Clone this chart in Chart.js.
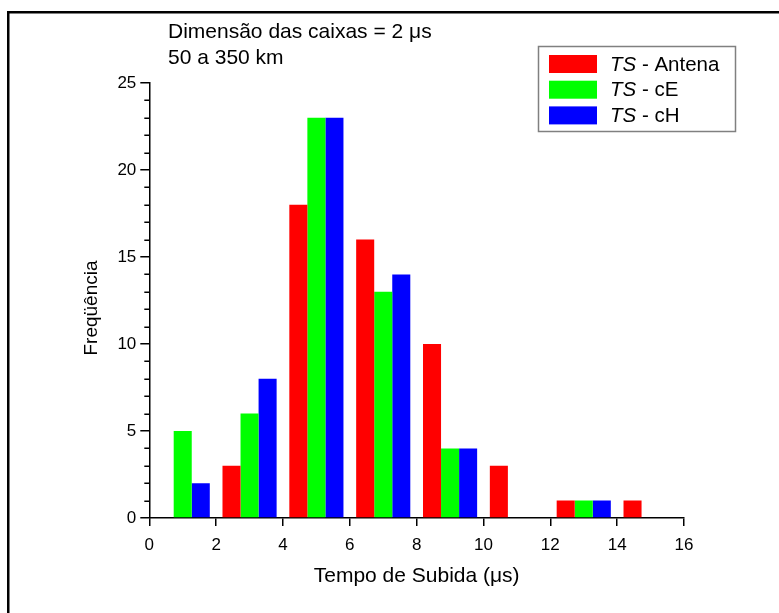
<!DOCTYPE html>
<html><head><meta charset="utf-8">
<script src="https://cdn.jsdelivr.net/npm/chart.js@4/dist/chart.umd.min.js"></script>
<style>html,body{margin:0;padding:0;background:#fff;} canvas{display:block;}</style>
</head><body>
<canvas id="c" width="779" height="613"></canvas>
<script>
// ---- data ----
const binCenters = [1, 3, 5, 7, 9, 11, 13, 15];
const seriesLabels = ['TS - Antena', 'TS - cE', 'TS - cH'];
const tsAntena = [0, 3, 18, 16, 10, 3, 1, 1];
const tsCE     = [5, 6, 23, 13, 4, 0, 1, 0];
const tsCH     = [2, 8, 23, 14, 4, 0, 1, 0];
const seriesColors = ['#ff0000', '#00ff00', '#0000ff'];
const xRange = [0, 16];
const xStep = 2;
const yRange = [0, 25];
const yStep = 5;
const noteLines = ['Dimensão das caixas = 2 μs', '50 a 350 km'];
const xTitle = 'Tempo de Subida (μs)';
const yTitle = 'Freqüência';

const FONT = "'Liberation Sans', Arial, Helvetica, sans-serif";

function pts(vals){ return binCenters.map((x,i)=>({x:x, y:vals[i]})); }

const decor = {
  id: 'decor',
  beforeDraw(chart){
    const ctx = chart.ctx;
    ctx.save(); ctx.fillStyle = '#fff'; ctx.fillRect(0,0,chart.width,chart.height); ctx.restore();
  },
  afterDraw(chart){
    const ctx = chart.ctx;
    const ys = chart.scales.y;
    ctx.save();
    // minor y ticks
    ctx.strokeStyle = '#000'; ctx.lineWidth = 1.5;
    for (let v = ys.min; v <= ys.max; v++) {
      if (v % yStep === 0) continue;
      const py = Math.round(ys.getPixelForValue(v)) + 0.25;
      ctx.beginPath(); ctx.moveTo(ys.right - 5, py); ctx.lineTo(ys.right, py); ctx.stroke();
    }
    // y axis title
    ctx.fillStyle = '#000';
    ctx.font = '19px ' + FONT;
    ctx.textAlign = 'center';
    ctx.textBaseline = 'middle';
    ctx.translate(92, 308);
    ctx.rotate(-Math.PI/2);
    ctx.fillText(yTitle, 0, 0);
    ctx.setTransform(1,0,0,1,0,0);
    // outer frame (top and left)
    ctx.fillStyle = '#000';
    ctx.fillRect(7, 11, chart.width - 7, 2.5);
    ctx.fillRect(7, 11, 2.5, chart.height - 11);
    // notes
    ctx.font = '21px ' + FONT;
    ctx.textBaseline = 'middle';
    ctx.textAlign = 'left';
    noteLines.forEach((t,i)=>{ ctx.fillText(t, 168, 32 + i*26); });
    // legend
    const bx = 538.5, by = 46.5, bw = 197, bh = 85;
    ctx.fillStyle = '#fff'; ctx.fillRect(bx, by, bw, bh);
    ctx.strokeStyle = '#808080'; ctx.lineWidth = 1.5; ctx.strokeRect(bx, by, bw, bh);
    chart.data.datasets.forEach((ds,i)=>{
      const cy = 64 + i*25.7;
      ctx.fillStyle = ds.backgroundColor;
      ctx.fillRect(549, cy - 9, 48, 18);
      const parts = ds.label.split(' - ');
      ctx.fillStyle = '#000';
      ctx.font = 'italic 20.5px ' + FONT;
      ctx.fillText(parts[0], 610, cy + 1);
      const w = ctx.measureText(parts[0]).width;
      ctx.font = '20.5px ' + FONT;
      ctx.fillText(' - ' + parts[1], 610 + w, cy + 1);
    });
    ctx.restore();
  }
};

new Chart(document.getElementById('c'), {
  type: 'bar',
  data: {
    datasets: [
      { label: seriesLabels[0], data: pts(tsAntena), backgroundColor: seriesColors[0], borderWidth: 0 },
      { label: seriesLabels[1], data: pts(tsCE), backgroundColor: seriesColors[1], borderWidth: 0 },
      { label: seriesLabels[2], data: pts(tsCH), backgroundColor: seriesColors[2], borderWidth: 0 }
    ]
  },
  options: {
    responsive: false,
    animation: false,
    devicePixelRatio: 1,
    categoryPercentage: 0.81,
    barPercentage: 1.0,
    layout: { padding: { left: 77, right: 95, top: 83, bottom: 20 } },
    plugins: { legend: { display: false }, tooltip: { enabled: false }, title: { display: false } },
    scales: {
      x: {
        type: 'linear', min: xRange[0], max: xRange[1], offset: false,
        grid: { offset: false, drawOnChartArea: false, drawTicks: true, tickLength: 8, color: '#000', lineWidth: 1.5 },
        border: { display: true, color: '#000', width: 1.5 },
        ticks: { stepSize: xStep, color: '#000', font: { family: FONT, size: 17 }, padding: 9, maxRotation: 0 },
        title: { display: true, text: xTitle, color: '#000', font: { family: FONT, size: 21 }, padding: { top: 4, bottom: 4 } },
        afterFit(s){ s.height = 75; }
      },
      y: {
        min: yRange[0], max: yRange[1],
        grid: { drawOnChartArea: false, drawTicks: true, tickLength: 9, color: '#000', lineWidth: 1.5 },
        border: { display: true, color: '#000', width: 1.5 },
        ticks: { stepSize: yStep, color: '#000', font: { family: FONT, size: 17 }, padding: 4 },
        title: { display: false },
        afterFit(s){ s.width = 72.3; }
      }
    }
  },
  plugins: [decor]
});
</script>
</body></html>
